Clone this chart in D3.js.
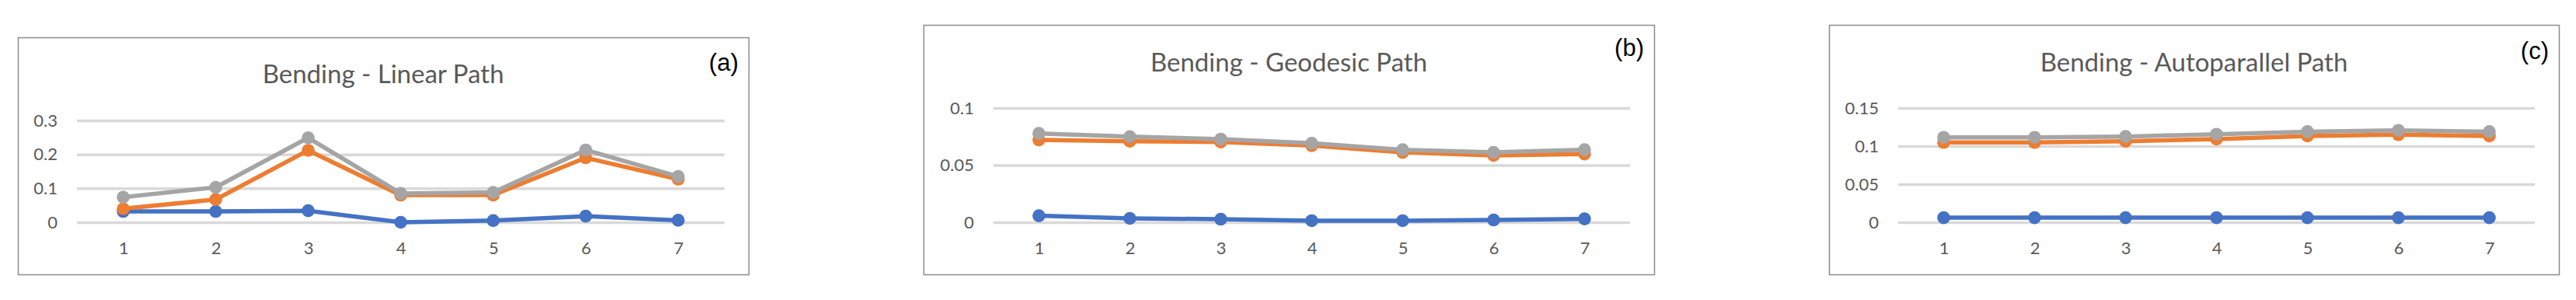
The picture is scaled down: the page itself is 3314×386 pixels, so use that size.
<!DOCTYPE html>
<html>
<head>
<meta charset="utf-8">
<script src="https://cdn.jsdelivr.net/npm/d3@7"></script>
<style>
  body { margin: 0; background: #fff; }
  svg { display: block; }
</style>
</head>
<body>
<div id="chart"></div>
<script>
// categories shared by all three panels
var steps = [1, 2, 3, 4, 5, 6, 7];

// (a) Bending - Linear Path
var linearBlue   = [0.032, 0.032, 0.034, 0.000, 0.005, 0.018, 0.006];
var linearOrange = [0.040, 0.067, 0.212, 0.080, 0.080, 0.190, 0.127];
var linearGray   = [0.074, 0.103, 0.249, 0.085, 0.088, 0.213, 0.135];
var linearTicks  = [0, 0.1, 0.2, 0.3];

// (b) Bending - Geodesic Path
var geodesicBlue   = [0.0057, 0.0034, 0.0027, 0.0014, 0.0014, 0.0020, 0.0030];
var geodesicOrange = [0.0721, 0.0710, 0.0703, 0.0671, 0.0612, 0.0585, 0.0597];
var geodesicGray   = [0.0778, 0.0750, 0.0728, 0.0692, 0.0635, 0.0612, 0.0635];
var geodesicTicks  = [0, 0.05, 0.1];

// (c) Bending - Autoparallel Path
var autoBlue   = [0.006, 0.006, 0.006, 0.006, 0.006, 0.006, 0.006];
var autoOrange = [0.1048, 0.1048, 0.1065, 0.1092, 0.1133, 0.1150, 0.1133];
var autoGray   = [0.1115, 0.1115, 0.1126, 0.1156, 0.1190, 0.1207, 0.1190];
var autoTicks  = [0, 0.05, 0.1, 0.15];

var seriesColors = ["#4472C4", "#ED7D31", "#A5A5A5"];

var panels = [
    { title: "Bending - Linear Path", tag: "(a)", series: [linearBlue, linearOrange, linearGray],
      ticks: linearTicks, box: [23, 48, 963, 353], plotX: [99, 932], yTop: 155, titleY: 107, tagX: 950, tagY: 91 },
    { title: "Bending - Geodesic Path", tag: "(b)", series: [geodesicBlue, geodesicOrange, geodesicGray],
      ticks: geodesicTicks, box: [1188, 32, 2128, 353], plotX: [1278, 2097], yTop: 139, titleY: 92, tagX: 2115, tagY: 72 },
    { title: "Bending - Autoparallel Path", tag: "(c)", series: [autoBlue, autoOrange, autoGray],
      ticks: autoTicks, box: [2353, 32, 3292, 353], plotX: [2442, 3261], yTop: 139, titleY: 92, tagX: 3279, tagY: 76 }
];

var width = 3314, height = 386, yZero = 286;
var font = "Lato, 'Open Sans', sans-serif";

var svg = d3.select("#chart")
            .append("svg")
            .attr("width", width)
            .attr("height", height);

panels.forEach(function(p) {
    var g = svg.append("g");
    var ticks = p.ticks;

    var x = d3.scalePoint()
              .domain(steps)
              .range(p.plotX)
              .padding(0.5);
    var y = d3.scaleLinear()
              .domain([0, ticks[ticks.length - 1]])
              .range([yZero, p.yTop]);

    // frame
    g.append("rect")
        .attr("x", p.box[0] + 0.5)
        .attr("y", p.box[1] + 0.5)
        .attr("width", p.box[2] - p.box[0])
        .attr("height", p.box[3] - p.box[1])
        .attr("fill", "#fff")
        .attr("stroke", "#8c8c8c")
        .attr("stroke-width", 1.5);

    // gridlines + y labels
    var yAxis = d3.axisLeft(y)
                  .tickValues(ticks)
                  .tickSize(-(p.plotX[1] - p.plotX[0]))
                  .tickPadding(25)
                  .tickFormat(function(d) { return d3.format("")(+d.toFixed(2)); });
    var ya = g.append("g")
        .attr("transform", "translate(" + p.plotX[0] + ",0)")
        .call(yAxis);
    ya.select(".domain").remove();
    ya.selectAll("line")
        .attr("stroke", "#d9d9d9")
        .attr("stroke-width", 3.5);
    ya.selectAll("text")
        .attr("font-family", font)
        .attr("font-size", "22px")
        .attr("fill", "#595959");

    // x labels
    var xAxis = d3.axisBottom(x).tickSize(0).tickPadding(0);
    var xa = g.append("g")
        .attr("transform", "translate(0," + 327 + ")")
        .call(xAxis);
    xa.select(".domain").remove();
    xa.selectAll("text")
        .attr("dy", 0)
        .attr("font-family", font)
        .attr("font-size", "22px")
        .attr("fill", "#595959");

    // lines and markers
    var line = d3.line()
                 .x(function(d, i) { return x(steps[i]); })
                 .y(function(d) { return y(d); });

    p.series.forEach(function(values, s) {
        g.append("path")
            .datum(values)
            .attr("d", line)
            .attr("fill", "none")
            .attr("stroke", seriesColors[s])
            .attr("stroke-width", 5.5)
            .attr("stroke-linejoin", "round");
        g.selectAll(".dot" + s)
            .data(values)
            .enter()
            .append("circle")
            .attr("cx", function(d, i) { return x(steps[i]); })
            .attr("cy", function(d) { return y(d); })
            .attr("r", 8.3)
            .attr("fill", seriesColors[s]);
    });

    // title
    g.append("text")
        .text(p.title)
        .attr("x", (p.box[0] + p.box[2]) / 2)
        .attr("y", p.titleY)
        .attr("text-anchor", "middle")
        .attr("font-family", font)
        .attr("font-size", "33px")
        .attr("fill", "#595959");

    // panel tag
    g.append("text")
        .text(p.tag)
        .attr("x", p.tagX)
        .attr("y", p.tagY)
        .attr("text-anchor", "end")
        .attr("font-family", "'Liberation Sans', Arial, sans-serif")
        .attr("font-size", "31px")
        .attr("fill", "#000");
});
</script>
</body>
</html>
